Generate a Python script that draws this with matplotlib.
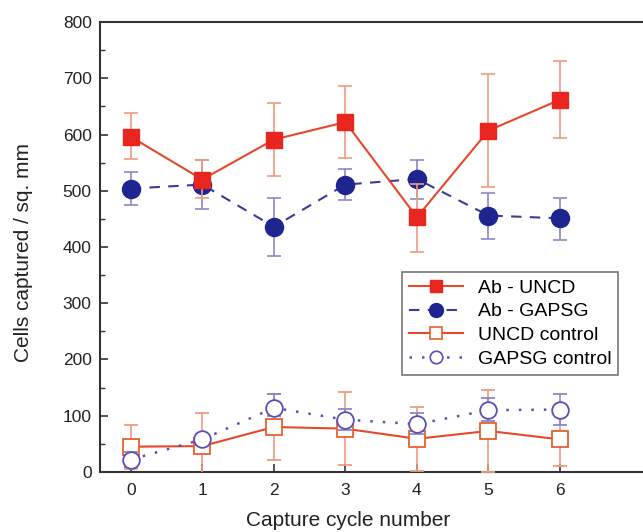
import numpy as np
import matplotlib.pyplot as plt
from matplotlib.lines import Line2D
from matplotlib.ticker import MultipleLocator

plt.rcParams['font.family'] = ['Liberation Sans', 'DejaVu Sans']

cycles = [0, 1, 2, 3, 4, 5, 6]

# Ab - UNCD
ab_uncd = [596, 520, 591, 622, 453, 607, 662]
ab_uncd_lo = [556, 487, 526, 558, 392, 506, 593]
ab_uncd_hi = [638, 555, 656, 686, 512, 707, 730]

# Ab - GAPSG
ab_gapsg = [504, 511, 436, 511, 521, 456, 451]
ab_gapsg_lo = [475, 467, 384, 484, 486, 415, 413]
ab_gapsg_hi = [533, 555, 487, 538, 555, 496, 488]

# UNCD control
uncd_ctrl = [45, 46, 80, 77, 59, 73, 58]
uncd_ctrl_lo = [6, -13, 21, 12, 2, 0, 11]
uncd_ctrl_hi = [84, 105, 139, 143, 116, 146, 105]

# GAPSG control
gapsg_ctrl = [22, 58, 114, 93, 85, 110, 111]
gapsg_ctrl_lo = [8, 48, 100, 75, 67, 90, 84]
gapsg_ctrl_hi = [36, 68, 139, 112, 105, 131, 139]

labels = ['Ab - UNCD', 'Ab - GAPSG', 'UNCD control', 'GAPSG control']


def yerr(v, lo, hi):
    v = np.array(v)
    return [v - np.array(lo), np.array(hi) - v]


fig = plt.figure(figsize=(6.43, 5.32), dpi=100)
ax = fig.add_axes([0.1555, 0.1128, 0.8445, 0.8458])

red = '#e8251f'
redline = '#e5482a'
rederr = '#f09a80'
navy = '#1f2590'
navyline = '#3a3c98'
blueerr = '#8c86c8'
orange = '#e8602e'
purple = '#5b4fb4'

dash = (0, (5, 4))
dot = (0, (1, 4))

ax.errorbar(cycles, ab_uncd, yerr=yerr(ab_uncd, ab_uncd_lo, ab_uncd_hi),
            color=redline, lw=1.5, marker='s', ms=11.5, mfc=red, mec=red,
            ecolor=rederr, elinewidth=1.2, capsize=5, capthick=1.2, zorder=4)
ax.errorbar(cycles, ab_gapsg, yerr=yerr(ab_gapsg, ab_gapsg_lo, ab_gapsg_hi),
            color=navyline, lw=1.5, ls=dash, marker='o', ms=13,
            mfc=navy, mec=navy, ecolor=blueerr, elinewidth=1.2, capsize=5,
            capthick=1.2, zorder=3)
ax.errorbar(cycles, uncd_ctrl, yerr=yerr(uncd_ctrl, uncd_ctrl_lo, uncd_ctrl_hi),
            color=redline, lw=1.5, marker='s', ms=11, mfc='white', mec=orange,
            mew=1.3, ecolor=rederr, elinewidth=1.2, capsize=5, capthick=1.2,
            zorder=3)
ax.errorbar(cycles, gapsg_ctrl, yerr=yerr(gapsg_ctrl, gapsg_ctrl_lo, gapsg_ctrl_hi),
            color=purple, lw=1.8, ls=dot, marker='o', ms=12,
            mfc='white', mec=purple, mew=1.3, ecolor=blueerr, elinewidth=1.2,
            capsize=5, capthick=1.2, zorder=4)

ax.set_xlim(-0.43, 7.16)
ax.set_ylim(0, 800)
ax.set_xticks(cycles)
ax.yaxis.set_major_locator(MultipleLocator(100))
ax.yaxis.set_minor_locator(MultipleLocator(50))
ax.tick_params(axis='both', which='major', direction='in', length=6,
               width=1.2, labelsize=12.5, color='#333333', labelcolor='#222222')
ax.tick_params(axis='y', which='minor', direction='in', length=3.5,
               width=1.0, color='#333333')
ax.tick_params(axis='x', pad=8)
ax.tick_params(axis='y', pad=6)
ax.spines['right'].set_visible(False)
for s in ['left', 'bottom', 'top']:
    ax.spines[s].set_linewidth(1.5)
    ax.spines[s].set_color('#333333')

ax.set_xlabel('Capture cycle number', fontsize=15, color='#222222')
ax.set_ylabel('Cells captured / sq. mm', fontsize=15, color='#222222')
ax.xaxis.set_label_coords(0.457, -0.086)
ax.yaxis.set_label_coords(-0.123, 0.487)

handles = [
    Line2D([], [], color=redline, lw=1.5, marker='s', ms=9, mfc=red, mec=red),
    Line2D([], [], color=navyline, lw=1.5, ls=dash, marker='o', ms=10,
           mfc=navy, mec=navy),
    Line2D([], [], color=redline, lw=1.5, marker='s', ms=8.5, mfc='white',
           mec=orange, mew=1.2),
    Line2D([], [], color=purple, lw=1.8, ls=dot, marker='o', ms=9,
           mfc='white', mec=purple, mew=1.2),
]
leg = ax.legend(handles, labels, loc='upper left',
                bbox_to_anchor=(0.556, 0.444), fontsize=14, fancybox=False,
                edgecolor='#555555', handlelength=2.8, borderpad=0.35,
                labelspacing=0.32, handletextpad=0.75, borderaxespad=0)
leg.get_frame().set_linewidth(1.2)

fig.savefig('out.png', dpi=100)
